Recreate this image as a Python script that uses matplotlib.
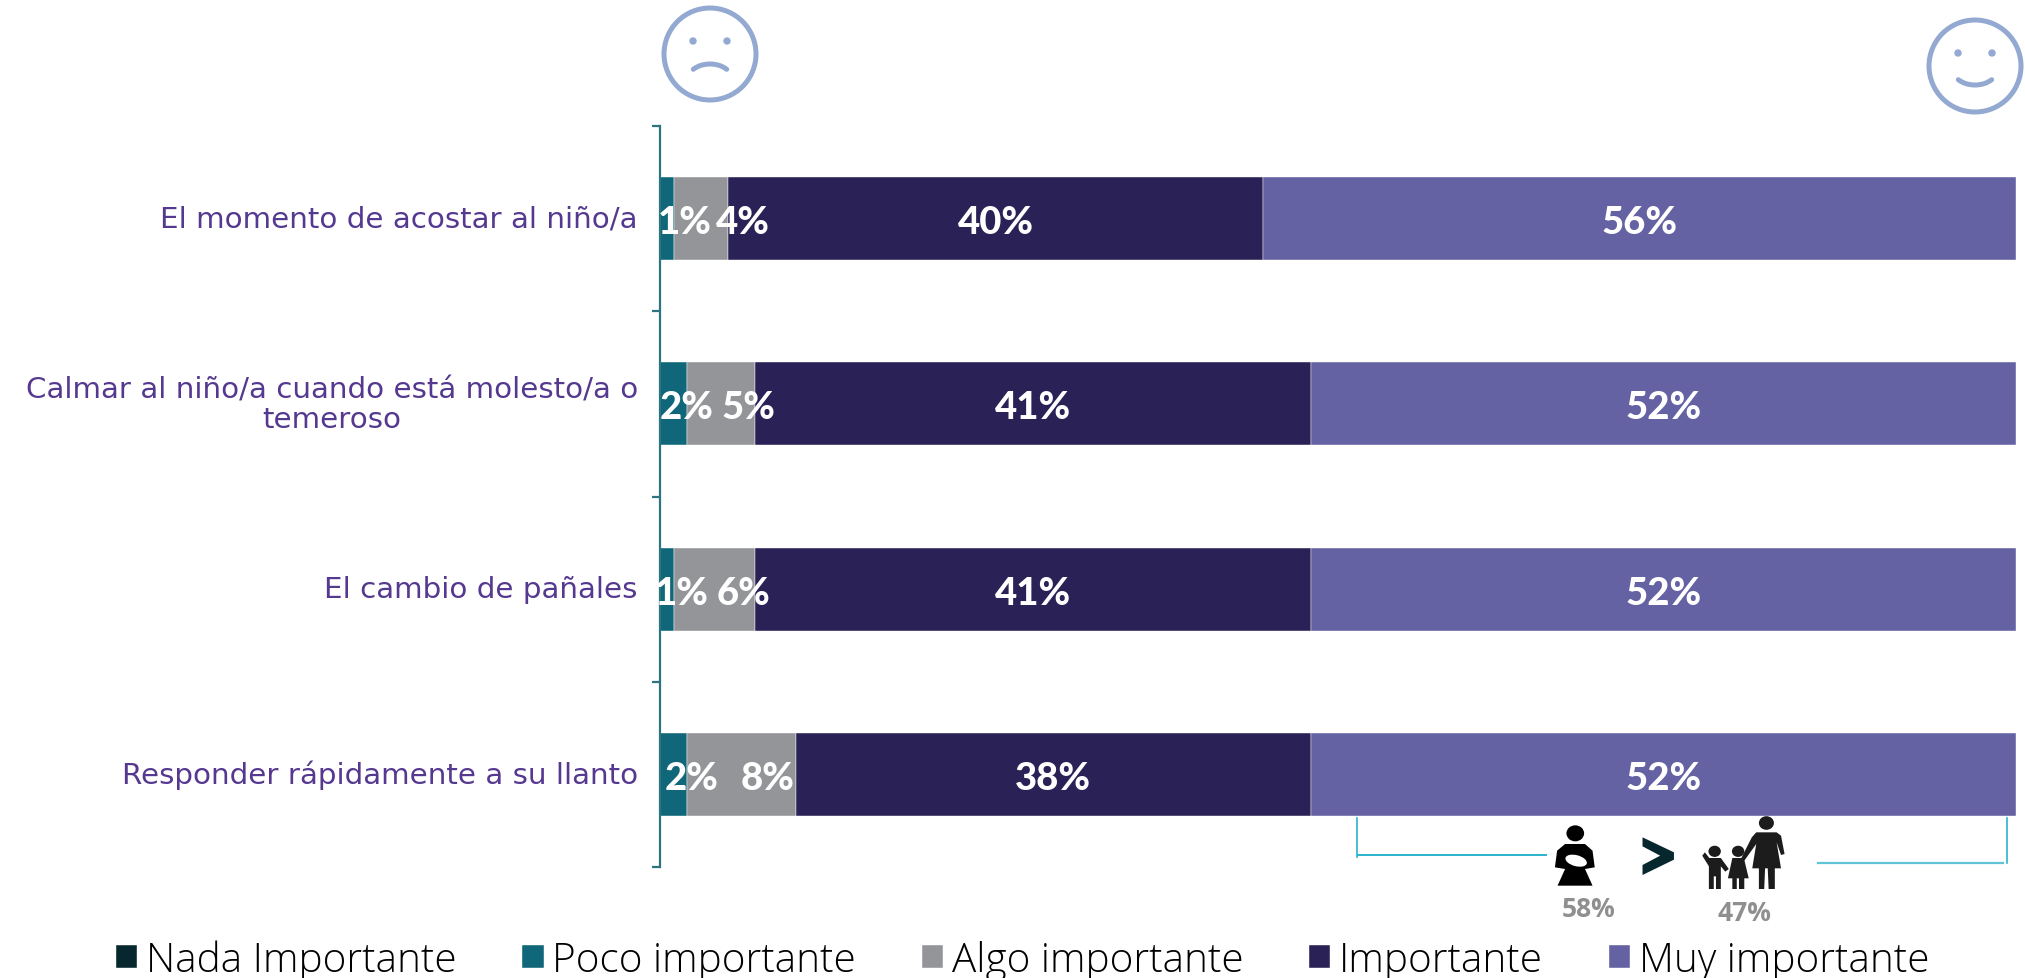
import matplotlib
matplotlib.use('Agg')
import matplotlib.pyplot as plt
import numpy as np
from matplotlib.patches import Circle, Ellipse, Polygon, Arc
from matplotlib.transforms import ScaledTranslation

W, H = 2025, 979

categories = ['El momento de acostar al niño/a',
              'Calmar al niño/a cuando está molesto/a o\ntemeroso',
              'El cambio de pañales',
              'Responder rápidamente a su llanto']
series = ['Nada Importante', 'Poco importante', 'Algo importante', 'Importante', 'Muy importante']
colors = ['#06272e', '#0f6779', '#939598', '#2a2157', '#6462a2']

nada = [0, 0, 0, 0]
poco = [1, 2, 1, 2]
algo = [4, 5, 6, 8]
importante = [39.5, 41, 41, 38]
muy = [55.5, 52, 52, 52]
values = [nada, poco, algo, importante, muy]

poco_labels = ['1%', '2%', '1%', '2%']
algo_labels = ['4%', '5%', '6%', '8%']
importante_labels = ['40%', '41%', '41%', '38%']
muy_labels = ['56%', '52%', '52%', '52%']

madre_pct = '58%'
familia_pct = '47%'

LABEL_FONT = 'Lato'
TEXT_PURPLE = '#55388f'

fig = plt.figure(figsize=(W / 100, H / 100), dpi=100)
ax = fig.add_axes([660 / W, 1 - 868 / H, (2016 - 660) / W, (868 - 127) / H])

y = np.arange(len(categories))
left = np.zeros(len(categories))
bars = []
for name, vals, col in zip(series, values, colors):
    b = ax.barh(y, vals, left=left, height=0.447, color=col, label=name,
                edgecolor='white', linewidth=0.3)
    bars.append(b)
    left = left + np.array(vals)

ax.set_xlim(0, 100)
ax.set_ylim(3.5, -0.5)
ax.xaxis.set_visible(False)
for s in ['top', 'right', 'bottom']:
    ax.spines[s].set_visible(False)
ax.spines['left'].set_color('#2c7480')
ax.spines['left'].set_linewidth(1.6)

ax.set_yticks(y)
ax.set_yticklabels(categories, fontsize=21.2, color=TEXT_PURPLE, family='DejaVu Sans',
                   ha='right', multialignment='center', linespacing=1.05)
ax.tick_params(axis='y', which='major', length=0, pad=16)
ax.set_yticks(np.arange(-0.5, 4), minor=True)
ax.tick_params(axis='y', which='minor', length=6, width=1.6, color='#2c7480')

# labels sit slightly above the middle of the bars
up = ScaledTranslation(0, 3 / 100, fig.dpi_scale_trans)
for lab in ax.get_yticklabels():
    lab.set_transform(lab.get_transform() + up)

# small segments have their labels pushed right by hand, like the original
poco_shift = [18, 13.5, 15, 18.5]
algo_shift = [42, 27, 29, 26]


def put_labels(bar, labels, shifts=None):
    for i, (rect, txt) in enumerate(zip(bar, labels)):
        dx = 0 if shifts is None else shifts[i] * 0.72
        ax.annotate(txt, (rect.get_x() + rect.get_width() / 2, rect.get_y() + rect.get_height() / 2),
                    xytext=(dx, -2.5), textcoords='offset points', ha='center', va='center',
                    color='white', fontsize=27.5, fontweight='black', family=LABEL_FONT)


put_labels(bars[1], poco_labels, poco_shift)
put_labels(bars[2], algo_labels, algo_shift)
put_labels(bars[3], importante_labels)
put_labels(bars[4], muy_labels)

fig.legend(handles=bars, loc='lower left', bbox_to_anchor=(108 / W, 1 - 990 / H), ncol=5, frameon=False,
           prop={'family': 'Open Sans', 'size': 29.1, 'weight': 'light'},
           handlelength=0.52, handleheight=0.52, handletextpad=0.22, columnspacing=1.63,
           labelcolor='black', borderaxespad=0.0, borderpad=0.2)

# overlay in pixel coordinates for the faces, brackets and icons
ov = fig.add_axes([0, 0, 1, 1], facecolor='none')
ov.set_xlim(0, W)
ov.set_ylim(H, 0)
ov.axis('off')

FACE = '#93a9d1'


def face(cx, cy, happy):
    ov.add_patch(Circle((cx, cy), 46, fill=False, ec=FACE, lw=3.6))
    for dx in (-17, 17):
        ov.add_patch(Circle((cx + dx, cy - 13), 3, color=FACE))
    if happy:
        ov.add_patch(Arc((cx, cy + 2), 46, 34, theta1=35, theta2=145, ec=FACE, lw=3.6, capstyle='round'))
    else:
        ov.add_patch(Arc((cx, cy + 27), 46, 34, theta1=215, theta2=325, ec=FACE, lw=3.6, capstyle='round'))


face(710, 55, False)
face(1975, 67, True)

BRACKET = '#2bb3cd'
ov.plot([1357, 1357], [819, 858], color=BRACKET, lw=1.2)
ov.plot([1358, 1546], [856, 856], color=BRACKET, lw=1.4)
ov.plot([1818, 2003], [864, 864], color='#62c4d8', lw=1.6)
ov.plot([2007, 2007], [819, 864], color=BRACKET, lw=1.2)


# icon outlines were traced off a 1547x567 view of the lower right corner
def pt(zx, zy):
    return (1335 + zx / 2.26, 790 + zy / 3)


def shape(points, color):
    ov.add_patch(Polygon([pt(*p) for p in points], closed=True, color=color, lw=0))


def head(zx, zy, r, color):
    ov.add_patch(Ellipse(pt(zx, zy), r * 2 / 2.26, r * 2 / 3 * 1.2, color=color, lw=0))


# mother with baby
head(543, 133, 20, 'black')
shape([(520, 165), (565, 165), (582, 185), (587, 235), (565, 240), (582, 290), (503, 290), (520, 240),
       (497, 235), (502, 185)], 'black')
ov.add_patch(Ellipse(pt(545, 215), 22, 11, angle=15, color='white', lw=0))

# greater than sign
shape([(695, 145), (766, 190), (766, 212), (695, 258), (695, 228), (735, 200), (695, 172)], '#06272e')

# mother and two children
DARK = '#1c1c1c'
head(975, 102, 17, DARK)
shape([(952, 130), (998, 130), (1008, 140), (1016, 195), (1008, 198), (998, 160), (1008, 238), (994, 238),
       (994, 300), (980, 300), (978, 238), (972, 238), (970, 300), (958, 300), (958, 238), (943, 238),
       (952, 165), (925, 215), (918, 208), (942, 145)], DARK)
head(911, 187, 14, DARK)
shape([(898, 207), (924, 207), (935, 268), (925, 268), (925, 300), (913, 300), (913, 268), (908, 268),
       (908, 300), (898, 300), (898, 268), (888, 268)], DARK)
head(858, 187, 14, DARK)
shape([(846, 207), (872, 207), (890, 240), (882, 248), (872, 232), (872, 300), (861, 300), (861, 262),
       (856, 262), (856, 300), (845, 300), (845, 232), (830, 200), (836, 190)], DARK)

ov.text(1589, 910, madre_pct, color='#8f8f8f', fontsize=19, fontweight='bold', ha='center', va='center',
        family='Open Sans')
ov.text(1744, 914, familia_pct, color='#8f8f8f', fontsize=19, fontweight='bold', ha='center', va='center',
        family='Open Sans')

plt.savefig('out.png', dpi=100)
